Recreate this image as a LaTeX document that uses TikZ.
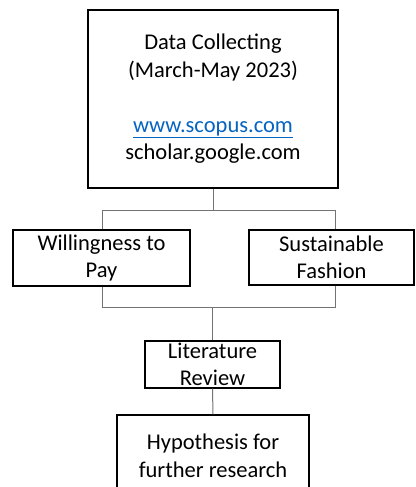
\documentclass[tikz,border=0pt]{standalone}
\usepackage{fontspec}
\setmainfont{Carlito}
\definecolor{linkblue}{HTML}{0563C1}
\tikzset{
  box/.style={draw=black, line width=1.4pt, align=center, inner sep=0pt,
    font=\fontsize{22.5}{27.5}\selectfont},
  conn/.style={draw=black!55, line width=1pt}
}
\begin{document}
\begin{tikzpicture}[x=1pt,y=-1pt]
\useasboundingbox (0,0) rectangle (415,487);
\clip (0,0) rectangle (415,487);
\node[box, minimum width=250pt, minimum height=178pt] (top) at (213,99)
  {Data Collecting\\(March-May 2023)\\[27.5pt]{\color{linkblue}\underline{www.scopus.com}}\\scholar.google.com};
\node[box, minimum width=177pt, minimum height=56pt] (lb) at (101.5,258) {Willingness to\\Pay};
\node[box, minimum width=165pt, minimum height=55pt] (rb) at (331.5,257.5) {Sustainable\\Fashion};
\node[box, minimum width=135pt, minimum height=47pt] (lit) at (212.5,364.5) {Literature\\Review};
\node[box, minimum width=192pt, minimum height=82pt] (hyp) at (213,456) {Hypothesis for\\further research};
\coordinate (bl) at (102,210);
\coordinate (br) at (335,210);
\coordinate (cl) at (102,307);
\coordinate (cr) at (335,307);
\draw[conn] (top.south) -- (top.south |- bl);
\draw[conn] (lb.north -| bl) -- (bl) -- (br) -- (rb.north -| br);
\draw[conn] (lb.south -| cl) -- (cl) -- (cr) -- (rb.south -| cr);
\draw[conn] (lit.north |- cl) -- (lit.north);
\draw[conn] (lit.south) -- (hyp.north);
\end{tikzpicture}
\end{document}
